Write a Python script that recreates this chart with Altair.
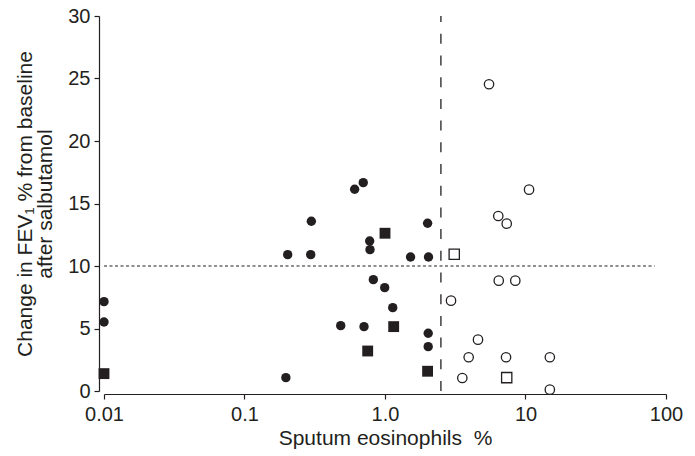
import altair as alt
import pandas as pd

# Filled circles
fc_x = [0.01, 0.01, 0.203, 0.296, 0.299, 0.608, 0.70, 0.778, 0.782, 1.52, 2.01, 2.04,
        0.826, 0.995, 1.135, 0.484, 0.709, 2.03, 2.03, 0.197]
fc_y = [7.15, 5.52, 10.91, 10.91, 13.58, 16.14, 16.67, 12.0, 11.31, 10.72, 13.42, 10.72,
        8.91, 8.27, 6.67, 5.23, 5.15, 4.62, 3.55, 1.07]
# Filled squares
fs_x = [0.01, 1.0, 1.153, 0.753, 2.01]
fs_y = [1.39, 12.62, 5.15, 3.2, 1.58]
# Open circles
oc_x = [5.50, 10.6, 6.40, 7.35, 6.45, 8.46, 2.95, 4.59, 3.94, 7.27, 14.9, 3.55, 14.9]
oc_y = [24.54, 16.11, 14.0, 13.39, 8.83, 8.83, 7.23, 4.11, 2.7, 2.7, 2.7, 1.04, 0.11]
# Open squares
os_x = [3.11, 7.35]
os_y = [10.94, 1.07]

x_ticks = [0.01, 0.1, 1, 10, 100]
x_tick_labels = ["0.01", "0.1", "1.0", "10", "100"]
y_ticks = [0, 5, 10, 15, 20, 25, 30]

eos_cut = 2.5
fev_cut = 10
fev_line_end = 83

INK = "#231f20"

label_expr = " : ".join(
    [f"datum.value == {v} ? '{l}'" for v, l in zip(x_ticks, x_tick_labels)]
) + " : ''"

xscale = alt.Scale(type="log", domain=[0.01, 100])
yscale = alt.Scale(domain=[0, 30], nice=False)

xaxis = alt.Axis(values=x_ticks, labelExpr=label_expr, title="Sputum eosinophils\u00a0\u00a0%",
                 offset=3, labelPadding=5, titlePadding=3, labelFlush=False)
yaxis = alt.Axis(values=y_ticks, title=["Change in FEV\u2081 % from baseline", "after salbutamol"],
                 offset=5, labelPadding=4, titlePadding=12, labelFlush=False)

def pts(xs, ys):
    return pd.DataFrame({"x": xs, "y": ys})

base_x = alt.X("x:Q", scale=xscale, axis=xaxis)
base_y = alt.Y("y:Q", scale=yscale, axis=yaxis)

fc = alt.Chart(pts(fc_x, fc_y)).mark_point(
    shape="circle", filled=True, fill=INK, size=88, opacity=1, strokeWidth=0
).encode(x=base_x, y=base_y)

fs = alt.Chart(pts(fs_x, fs_y)).mark_point(
    shape="square", filled=True, fill=INK, size=118, opacity=1, strokeWidth=0
).encode(x="x:Q", y="y:Q")

oc = alt.Chart(pts(oc_x, oc_y)).mark_point(
    shape="circle", filled=False, fill="white", stroke=INK, strokeWidth=1.3, size=88, opacity=1
).encode(x="x:Q", y="y:Q")

os_ = alt.Chart(pts(os_x, os_y)).mark_point(
    shape="square", filled=False, fill="white", stroke=INK, strokeWidth=1.3, size=105, opacity=1
).encode(x="x:Q", y="y:Q")

vline = alt.Chart(pd.DataFrame({"x": [eos_cut], "y": [0], "y2": [30]})).mark_rule(
    color=INK, strokeWidth=1.3, strokeDash=[10, 11.7]
).encode(x="x:Q", y="y:Q", y2="y2:Q")

hline = alt.Chart(pd.DataFrame({"x": [0.01], "x2": [fev_line_end], "y": [fev_cut]})).mark_rule(
    color=INK, strokeWidth=1.2, strokeDash=[3, 2.5]
).encode(x="x:Q", x2="x2:Q", y="y:Q")

chart = alt.layer(hline, vline, fc, fs, oc, os_).properties(
    width=562, height=375,
    autosize=alt.AutoSizeParams(type="none"),
    padding={"left": 104, "top": 16, "right": 29, "bottom": 65},
    background="white",
).configure_view(stroke=None).configure_axis(
    grid=False,
    domainColor=INK, domainWidth=1.2,
    tickColor=INK, tickWidth=1.2, tickSize=5,
    labelFont="Liberation Sans", labelFontSize=20, labelColor=INK,
    titleFont="Liberation Sans", titleFontSize=21, titleFontWeight="normal", titleColor=INK,
    titleLineHeight=20,
)

chart.save("out.html", embed_options={"renderer": "svg", "actions": False})
